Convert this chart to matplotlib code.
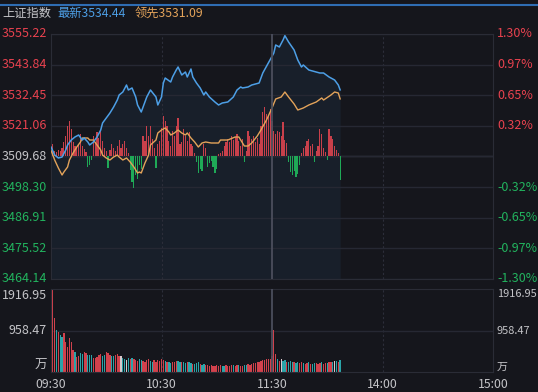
import matplotlib.pyplot as plt
from matplotlib.transforms import blended_transform_factory
from matplotlib.lines import Line2D

plt.rcParams['font.family'] = ['Noto Sans CJK SC', 'DejaVu Sans']

# 上证指数 分时 (minutes after 09:30, lunch break removed)
pre_close = 3509.68
price_ticks = [3555.22, 3543.84, 3532.45, 3521.06, 3509.68, 3498.30, 3486.91, 3475.52, 3464.14]
pct_labels = ['1.30%', '0.97%', '0.65%', '0.32%', '', '-0.32%', '-0.65%', '-0.97%', '-1.30%']
vol_ticks = [1916.95, 958.47, 0]
vol_labels = ['1916.95', '958.47', '万']
time_ticks = [0, 60, 120, 180, 240]
time_labels = ['09:30', '10:30', '11:30', '14:00', '15:00']

last_t = [0, 2, 4, 6, 8, 9, 11, 13, 15, 17, 18, 20, 21, 23, 25, 27, 28, 30, 32, 34,
          36, 37, 39, 41, 42, 44, 46, 47, 49, 50, 52, 54, 57, 58, 60, 61, 62, 65, 66, 68,
          69, 71, 73, 74, 76, 77, 79, 81, 83, 84, 86, 89, 91, 93, 96, 99, 101, 103, 104, 107,
          109, 113, 115, 118, 121, 122, 124, 126, 127, 129, 132, 134, 136, 137, 140, 144, 146, 148, 151, 154,
          156, 157]
last_p = [3513.21, 3510.24, 3509.12, 3509.49, 3512.10, 3513.96, 3515.81, 3516.93, 3517.67, 3515.81,
          3516.56, 3515.07, 3513.96, 3515.07, 3516.93, 3519.53, 3522.13, 3523.99, 3525.85, 3528.08,
          3530.68, 3532.54, 3533.66, 3536.26, 3534.40, 3535.15, 3531.80, 3528.83, 3526.22, 3528.08,
          3531.80, 3534.40, 3531.80, 3528.83, 3531.80, 3537.00, 3538.86, 3537.38, 3539.23, 3541.84,
          3542.95, 3539.98, 3541.09, 3539.23, 3542.21, 3539.23, 3537.00, 3535.15, 3532.54, 3533.66,
          3531.80, 3529.94, 3528.83, 3529.57, 3529.94, 3531.80, 3534.40, 3535.52, 3535.15, 3535.52,
          3536.26, 3537.00, 3540.72, 3544.44, 3548.16, 3551.13, 3550.39, 3552.99, 3554.60, 3552.25,
          3549.27, 3545.55, 3542.95, 3543.70, 3541.84, 3541.09, 3540.72, 3540.72, 3539.23, 3538.12,
          3536.26, 3534.44]

lead_t = [0, 2, 4, 6, 7, 9, 10, 12, 14, 16, 17, 20, 21, 23, 25, 27, 28, 30, 32, 34,
          36, 37, 39, 41, 43, 45, 47, 48, 49, 51, 53, 54, 57, 58, 60, 62, 64, 65, 67, 69,
          71, 73, 74, 76, 78, 80, 82, 84, 87, 91, 92, 96, 100, 102, 103, 105, 107, 109, 112, 114,
          117, 120, 122, 125, 127, 129, 132, 134, 137, 140, 144, 147, 148, 152, 154, 156, 157]
lead_p = [3512.00, 3508.38, 3505.40, 3502.80, 3503.92, 3505.78, 3508.38, 3510.98, 3513.21, 3515.07,
          3516.56, 3516.56, 3515.81, 3515.81, 3513.96, 3512.10, 3510.24, 3509.12, 3508.38, 3509.49,
          3510.24, 3509.49, 3508.38, 3509.12, 3507.63, 3505.78, 3503.54, 3503.92, 3503.54, 3507.26,
          3510.24, 3513.96, 3515.81, 3518.42, 3519.53, 3520.27, 3518.79, 3517.67, 3518.42, 3519.53,
          3518.42, 3517.67, 3518.42, 3516.56, 3515.07, 3513.21, 3514.70, 3515.07, 3514.70, 3514.70,
          3515.81, 3515.81, 3516.93, 3516.93, 3515.81, 3513.58, 3513.58, 3514.70, 3517.30, 3519.53,
          3523.25, 3527.71, 3531.06, 3531.80, 3533.66, 3531.80, 3529.20, 3526.97, 3527.71, 3528.83,
          3529.94, 3531.43, 3530.68, 3532.54, 3533.66, 3533.29, 3531.09]

# buy/sell power bars, one per minute
power = [17, 12, 5, 4, 6, 5, 8, 14, 20, 30,
         35, 27, 14, 10, 9, 12, 22, 10, 7, 4,
         -10, -8, -3, 20, 14, 24, 18, 25, 15, 8,
         5, -11, 6, 12, 8, 5, 10, 16, 8, 12,
         15, 8, 3, -13, -25, -31, -18, -22, -8, -12,
         20, 15, 30, 20, 30, 17, 8, -11, 12, 15,
         28, 40, 35, 30, 15, 10, 25, 20, 30, 38,
         12, 14, 27, 20, 15, 24, 12, 10, 3, -5,
         -16, -12, -14, 12, 8, -10, -6, -4, -10, -16,
         -12, 2, 3, 5, 10, 14, 17, 14, 20, 16,
         19, 22, 15, 10, 17, -5, 5, 25, 20, 17,
         20, 14, 18, 12, 30, 44, 49, 42, 40, 47,
         35, 25, 22, 25, 24, 20, 34, 16, 13, -5,
         -15, -18, -14, -20, -17, -8, 3, 8, 10, 15,
         17, 10, 12, -5, 5, 10, 27, 22, 8, 4,
         -3, 27, 20, 17, 10, 6, 3, -23]
power_scale = 0.372

# volume (万手), one per minute
vol = [620, 1917, 1250, 970, 925, 860, 810, 900, 700, 580,
       790, 700, 510, 470, 350, 380, 440, 420, 470, 430,
       400, 390, 400, 330, 320, 350, 390, 420, 380, 400,
       470, 450, 390, 360, 380, 400, 420, 380, 360, 330,
       300, 280, 320, 300, 320, 290, 280, 260, 300, 280,
       260, 240, 280, 300, 250, 240, 270, 230, 280, 260,
       300, 280, 250, 240, 220, 210, 240, 230, 260, 250,
       230, 220, 240, 210, 230, 220, 200, 190, 180, 200,
       220, 180, 170, 190, 160, 170, 150, 160, 150, 140,
       160, 150, 170, 150, 140, 160, 150, 140, 170, 160,
       150, 170, 160, 140, 150, 170, 160, 180, 170, 190,
       200, 210, 240, 220, 250, 270, 280, 300, 290, 310,
       380, 980, 420, 300, 260, 290, 260, 280, 240, 230,
       250, 220, 240, 210, 230, 200, 220, 210, 190, 200,
       220, 180, 190, 200, 210, 190, 200, 220, 180, 200,
       210, 230, 220, 240, 250, 260, 230, 270]
vol_dir = ("wrrgrggrrr" "rrrgrrggrr" "gggrrrrrgg" "rrrggrrrwg" "gwgrgrrrgg"
           "rrrrggrrrr" "rrgrggrrrg" "grggrggrgg" "grggrrrrrr" "rrrggrrrrg"
           "rrgrrggrrr" "rrrrrrrrrr" "rrrgrwggrg" "ggrggrrgrr" "grggrrrgrr"
           "grrgwgrg")

BG = '#15161c'
GRID = '#262833'
RED = '#e8424f'
GREEN = '#22b35e'
GREY = '#c4c4c8'
BLUE = '#4d9fe6'
ORANGE = '#e3a35a'
TEAL = '#2aa4a8'
BAR_RED = '#c8404b'
BAR_GREEN = '#1fa957'
vol_colors = {'r': '#d0414c', 'g': TEAL, 'w': '#d8c8cc'}

fig = plt.figure(figsize=(5.38, 3.92), dpi=100, facecolor=BG)
ax = fig.add_axes([51 / 538, 1 - 279 / 392, 442 / 538, 245 / 392], facecolor=BG)
axv = fig.add_axes([51 / 538, 1 - 372 / 392, 442 / 538, 83 / 392], facecolor=BG)

# ---- price panel ----
ax.set_xlim(0, 240)
ax.set_ylim(price_ticks[-1], price_ticks[0])
ax.set_yticks(price_ticks)
ax.set_xticks([60, 180])
ax.tick_params(length=0, labelleft=False, labelbottom=False)
ax.grid(axis='y', color=GRID, lw=1)
ax.grid(axis='x', color='#2c2e3a', lw=0.8, ls=(0, (2, 2)))
ax.axhline(pre_close, color='#3a3c48', lw=1, zorder=1.5)
ax.axvline(120, color='#4b4e5c', lw=1.3, zorder=5)

ax.fill_between(last_t, last_p, price_ticks[-1], color=BLUE, alpha=0.07, lw=0, zorder=1)
ax.bar(range(len(power)), [p * power_scale for p in power], bottom=pre_close, width=0.65,
       color=[BAR_RED if p > 0 else BAR_GREEN for p in power], lw=0, zorder=2)
ax.plot(lead_t, lead_p, color=ORANGE, lw=1.0, zorder=3)
ax.plot(last_t, last_p, color=BLUE, lw=1.1, zorder=4)

tr = blended_transform_factory(ax.transAxes, ax.transData)
for v, pct in zip(price_ticks, pct_labels):
    c = RED if v > pre_close else (GREEN if v < pre_close else GREY)
    ax.text(-0.009, v, f'{v:.2f}', transform=tr, ha='right', va='center', color=c, fontsize=9)
    if pct:
        ax.text(1.009, v, pct, transform=tr, ha='left', va='center', color=c, fontsize=9)

# ---- volume panel ----
axv.set_xlim(0, 240)
axv.set_ylim(0, vol_ticks[0])
axv.set_yticks(vol_ticks[1:2])
axv.set_xticks([60, 180])
axv.tick_params(length=0, labelleft=False, labelbottom=False)
axv.grid(axis='y', color=GRID, lw=1)
axv.grid(axis='x', color='#2c2e3a', lw=0.8, ls=(0, (2, 2)))
axv.bar(range(len(vol)), vol, width=0.7, lw=0, color=[vol_colors[d] for d in vol_dir], zorder=2)
axv.axvline(120, color='#4b4e5c', lw=1.3, zorder=5)

trv = blended_transform_factory(axv.transAxes, axv.transData)
for v, lab, va in zip(vol_ticks, vol_labels, ['top', 'center', 'bottom']):
    axv.text(-0.009, v, lab, transform=trv, ha='right', va=va, color=GREY, fontsize=9)
    axv.text(1.009, v, lab, transform=trv, ha='left', va=va, color=GREY, fontsize=7.9)

trt = blended_transform_factory(axv.transData, fig.transFigure)
for t, lab in zip(time_ticks, time_labels):
    axv.text(t, 1 - 384 / 392, lab, transform=trt, ha='center', va='center',
             color=GREY, fontsize=8.8)

for a in (ax, axv):
    for s in a.spines.values():
        s.set_color('#2a2c36')

# ---- header ----
fig.add_artist(Line2D([0, 1], [1 - 4.5 / 392] * 2, color='#2f6db3', lw=1.5))
fig.text(2 / 538, 1 - 13 / 392, '上证指数', color=GREY, fontsize=8.8, va='center')
fig.text(57 / 538, 1 - 13 / 392, '最新3534.44', color=BLUE, fontsize=8.8, va='center')
fig.text(135 / 538, 1 - 13 / 392, '领先3531.09', color=ORANGE, fontsize=8.8, va='center')

fig.savefig('out.png', dpi=100, facecolor=BG)
